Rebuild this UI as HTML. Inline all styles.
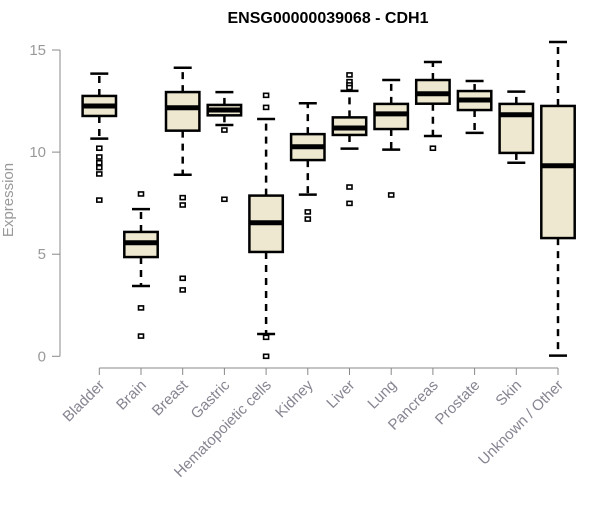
<!DOCTYPE html>
<html><head><meta charset="utf-8"><style>
body{margin:0;background:#fff;}
svg text{font-family:"Liberation Sans",Arial,sans-serif;}
</style></head><body>
<svg id="chart" width="600" height="500">
<text x="328" y="23" text-anchor="middle" font-size="16" font-weight="bold">ENSG00000039068 - CDH1</text>
<text transform="translate(13,200) rotate(-90)" text-anchor="middle" font-size="15" fill="#999">Expression</text>
<g id="plot"></g>
</svg>
<script>
const categories=["Bladder","Brain","Breast","Gastric","Hematopoietic cells","Kidney","Liver","Lung","Pancreas","Prostate","Skin","Unknown / Other"];
const whiskerLow=[10.66,3.44,8.89,11.33,1.09,7.92,10.17,10.12,10.79,10.94,9.48,0.03];
const q1=[11.77,4.86,11.05,11.8,5.11,9.61,10.84,11.13,12.37,12.06,9.96,5.79];
const medians=[12.26,5.56,12.17,12.06,6.54,10.26,11.18,11.87,12.86,12.55,11.83,9.33];
const q3=[12.75,6.09,12.94,12.31,7.87,10.88,11.7,12.36,13.53,12.99,12.36,12.26];
const whiskerHigh=[13.84,7.21,14.13,12.94,11.62,12.39,13.0,13.53,14.41,13.48,12.96,15.39];
const outliers=[[10.19,9.76,9.48,9.24,8.93,7.65],[7.95,2.37,0.99],[7.77,7.41,3.82,3.25],[11.08,7.69],[12.78,12.19,0.93,0],[7.07,6.72],[13.78,13.45,13.29,13.16,8.29,7.49],[7.9],[10.19],[],[],[]];
const yTicks=[0,5,10,15];

const NS="http://www.w3.org/2000/svg";
const g=document.getElementById('plot');
const y=v=>356.3-v*20.42;
const x=i=>99.3+i*41.7;
function mk(t,a){const e=document.createElementNS(NS,t);for(const k in a)e.setAttribute(k,a[k]);g.appendChild(e);return e;}
let ax=mk('line',{x1:60,x2:60,y1:y(15),y2:y(0),stroke:'#888'});


yTicks.forEach(v=>{
 let t=mk('line',{x1:52,x2:60,y1:y(v),y2:y(v),stroke:'#888'});
 
 
 let l=mk('text',{x:46,y:y(v)+5,'text-anchor':'end','font-size':15,fill:'#999'});
 l.textContent=v;
 
 
});
let xa=mk('line',{x1:x(0),x2:x(11),y1:368,y2:368,stroke:'#888'});


categories.forEach((c,i)=>{
 const cx=x(i);
 let t=mk('line',{x1:cx,x2:cx,y1:368,y2:375,stroke:'#888'});
 
 
 let l=mk('text',{x:cx+6,y:386,'text-anchor':'end','font-size':15,fill:'#858592',transform:`rotate(-45 ${cx+6} 386)`});
 l.textContent=c;
 
 
 const w={stroke:'#000','stroke-width':2.5,'stroke-dasharray':'7,6'};
 let w1=mk('line',Object.assign({x1:cx,x2:cx,y1:y(q3[i]),y2:y(whiskerHigh[i])},w));
 
 
 let w2=mk('line',Object.assign({x1:cx,x2:cx,y1:y(q1[i]),y2:y(whiskerLow[i])},w));
 
 
 [whiskerHigh[i],whiskerLow[i]].forEach(v=>{
  let c2=mk('line',{x1:cx-9,x2:cx+9,y1:y(v),y2:y(v),stroke:'#000','stroke-width':2.5});
  
  
 });
 let b=mk('rect',{x:cx-16.7,y:y(q3[i]),width:33.4,height:y(q1[i])-y(q3[i]),fill:'#ede8cf',stroke:'#000','stroke-width':2.5});
 
 
 let m=mk('line',{x1:cx-16.7,x2:cx+16.7,y1:y(medians[i]),y2:y(medians[i]),stroke:'#000','stroke-width':5});
 
 
 outliers[i].forEach(v=>{
  let o=mk('rect',{x:cx-2.5,y:y(v)-2,width:5,height:4,fill:'#fff',stroke:'#000','stroke-width':1.6});
  
  
 });
});
</script>
</body></html>
